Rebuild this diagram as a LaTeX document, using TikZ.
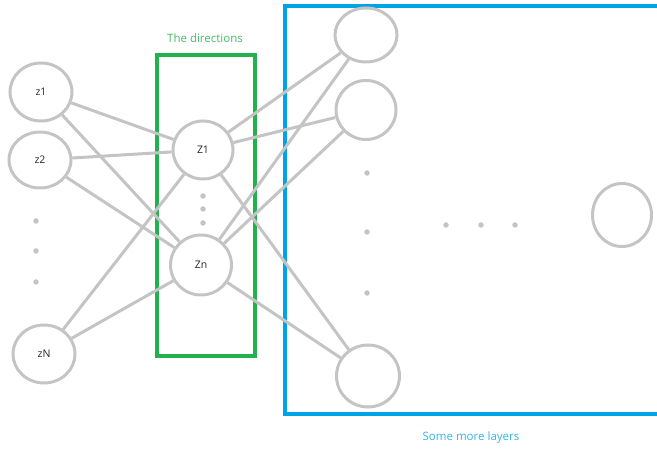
\documentclass[tikz,border=0pt]{standalone}
\usepackage{fontspec}
\setmainfont{Open Sans}
\usetikzlibrary{shapes.geometric}
\definecolor{nodegray}{RGB}{196,196,196}
\definecolor{pgreen}{RGB}{34,177,76}
\definecolor{pblue}{RGB}{0,162,232}
\tikzset{
  neuron/.style={draw=nodegray, line width=3pt, ellipse, minimum width=#1, minimum height=56pt, inner sep=0pt, font=\fontsize{10.5}{12}\selectfont, text=black!85},
  neuron/.default=60pt,
  conn/.style={draw=nodegray, line width=3pt},
  dotmark/.style={circle, fill=nodegray, inner sep=0pt, minimum size=5.5pt},
  frame/.style={line width=3.2pt},
  lbl/.style={font=\fontsize{11.5}{13}\selectfont}
}
\begin{document}
\begin{tikzpicture}[x=1pt,y=-1pt]
\useasboundingbox (0,0) rectangle (657,449);
% frames
\draw[frame, draw=pgreen] (157,55) rectangle (255,356);
\draw[frame, draw=pblue] (285,6) rectangle (670,414);
\node[lbl, text=pgreen!85] (tdir) at (205,38) {The directions};
\node[lbl, text=pblue!80] (sml) at (471,438) {Some more layers};
% input layer
\node[neuron=62pt, minimum height=58pt] (z1) at (41,92) {z1};
\node[neuron=62pt, minimum height=56pt] (z2) at (40,160) {z2};
\node[neuron=62pt, minimum height=58pt] (zN) at (44,354) {zN};
\node[dotmark] (ld1) at (36,221) {};
\node[dotmark] (ld2) at (36,251) {};
\node[dotmark] (ld3) at (36,282) {};
% directions layer
\node[neuron=60pt, minimum height=58pt] (Z1) at (203,150) {Z1};
\node[neuron=61pt, minimum height=60pt] (Zn) at (201,265) {Zn};
\node[dotmark] (md1) at (203,196) {};
\node[dotmark] (md2) at (203,209) {};
\node[dotmark] (md3) at (203,223) {};
% more layers
\node[neuron=62pt, minimum height=54pt] (h1) at (366,35) {};
\node[neuron=60pt, minimum height=59pt] (h2) at (366,110) {};
\node[neuron=63pt, minimum height=62pt] (hk) at (368,376) {};
\node[neuron=59pt, minimum height=63pt] (out) at (622,215) {};
\node[dotmark] (rd1) at (367,173) {};
\node[dotmark] (rd2) at (367,232) {};
\node[dotmark] (rd3) at (367,293) {};
\node[dotmark] (hd1) at (446,225) {};
\node[dotmark] (hd2) at (481,225) {};
\node[dotmark] (hd3) at (515,225) {};
% connections
\draw[conn] (z1) -- (Z1);
\draw[conn] (z1) -- (Zn);
\draw[conn] (z2) -- (Z1);
\draw[conn] (z2) -- (Zn);
\draw[conn] (zN) -- (Z1);
\draw[conn] (zN) -- (Zn);
\draw[conn] (Z1) -- (h1);
\draw[conn] (Z1) -- (h2);
\draw[conn] (Z1) -- (hk);
\draw[conn] (Zn) -- (h1);
\draw[conn] (Zn) -- (h2);
\draw[conn] (Zn) -- (hk);
\end{tikzpicture}
\end{document}
